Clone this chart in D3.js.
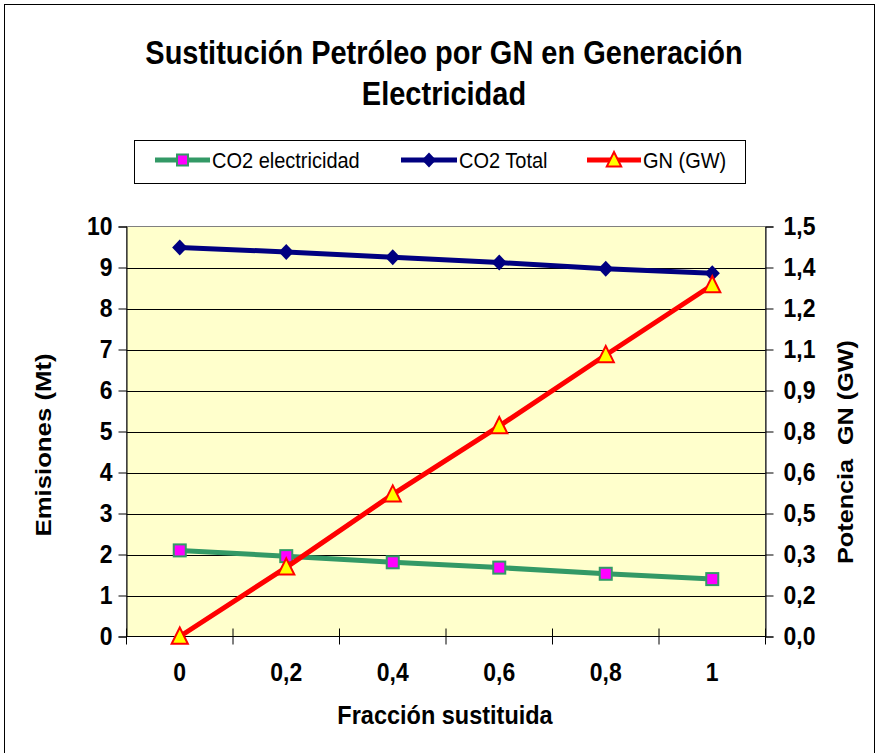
<!DOCTYPE html>
<html><head><meta charset="utf-8">
<script src="https://cdn.jsdelivr.net/npm/d3@7"></script>
<style>body{margin:0;background:#fff}svg{display:block}</style>
</head><body>
<svg id="c" width="879" height="753"></svg>
<script>
const categories = ["0","0,2","0,4","0,6","0,8","1"];
const co2Electricidad = [2.10, 1.96, 1.81, 1.68, 1.53, 1.40];
const co2Total = [9.49, 9.38, 9.25, 9.12, 8.97, 8.86];
const gnGW = [0.00, 0.253, 0.52, 0.77, 1.03, 1.286];
const leftTicks = [0,1,2,3,4,5,6,7,8,9,10];
const rightTickValues = [0,0.15,0.30,0.45,0.60,0.75,0.90,1.05,1.20,1.35,1.50];
const rightTickLabels = ["0,0","0,2","0,3","0,5","0,6","0,8","0,9","1,1","1,2","1,4","1,5"];

const svg = d3.select("#c");
const F = "'Liberation Sans', Arial, sans-serif";
const K = 1.12; // vertical stretch of the reference text
svg.append("rect").attr("x",4.5).attr("y",4.5).attr("width",870).attr("height",760)
  .attr("fill","#fff").attr("stroke","#000").attr("stroke-width",1);

const L=126.5, R=765.5, T=226.5, B=636.5;
const x = d3.scaleBand().domain(categories).range([L,R]);
const yL = d3.scaleLinear().domain([0,10]).range([B,T]);
const yR = d3.scaleLinear().domain([0,1.5]).range([B,T]);

svg.append("rect").attr("x",L).attr("y",T).attr("width",R-L).attr("height",B-T)
  .attr("fill","#FFFFCC").attr("stroke","#808080");

// gridlines
svg.append("g").selectAll("line").data(leftTicks.slice(1,-1)).join("line")
  .attr("x1",L).attr("x2",R).attr("y1",d=>Math.round(yL(d))+0.5).attr("y2",d=>Math.round(yL(d))+0.5)
  .attr("stroke","#000").attr("stroke-width",1);

function styleTicks(g){
  g.select(".domain").attr("stroke","#000");
  g.selectAll(".tick line").attr("stroke","#000");
  g.selectAll("text").attr("font-family",F).attr("font-weight","bold").attr("font-size",23).attr("fill","#000")
   .attr("transform",`scale(1,${K})`);
}
// left axis
const gl = svg.append("g").attr("transform",`translate(${L},0)`)
  .call(d3.axisLeft(yL).tickValues(leftTicks).tickSize(8).tickPadding(6).tickFormat(d3.format("d")));
styleTicks(gl);
// right axis
const gr = svg.append("g").attr("transform",`translate(${R},0)`)
  .call(d3.axisRight(yR).tickValues(rightTickValues).tickSize(8).tickPadding(10).tickFormat((d,i)=>rightTickLabels[i]));
styleTicks(gr);
// x axis
const gx = svg.append("g").attr("transform",`translate(0,${B})`)
  .call(d3.axisBottom(x).tickSize(0).tickPadding(22));
styleTicks(gx);
gx.selectAll("text").attr("y",0).attr("dy",0).attr("transform",`translate(0,44) scale(1,${K})`);
gx.select(".domain").remove();
svg.append("line").attr("x1",L).attr("x2",R).attr("y1",B).attr("y2",B).attr("stroke","#000");
// x boundary ticks (cross)
const bounds = categories.map(c=>x(c)).concat([R]);
svg.append("g").selectAll("line").data(bounds).join("line")
  .attr("x1",d=>d).attr("x2",d=>d).attr("y1",B-8).attr("y2",B+8).attr("stroke","#000");

const cx = (d,i)=>x(categories[i])+x.bandwidth()/2;

// series 1: CO2 electricidad
const lineL = d3.line().x(cx).y(d=>yL(d));
svg.append("path").datum(co2Electricidad).attr("d",lineL).attr("fill","none")
  .attr("stroke","#339966").attr("stroke-width",5);
svg.append("g").selectAll("rect").data(co2Electricidad).join("rect")
  .attr("x",(d,i)=>cx(d,i)-6).attr("y",d=>yL(d)-6).attr("width",12).attr("height",12)
  .attr("fill","#FF00FF").attr("stroke","#339966").attr("stroke-width",2);

// series 2: CO2 Total
svg.append("path").datum(co2Total).attr("d",lineL).attr("fill","none")
  .attr("stroke","#000080").attr("stroke-width",5);
const dia=(X,Y,s)=>`M${X},${Y-s}L${X+s*0.95},${Y}L${X},${Y+s}L${X-s*0.95},${Y}Z`;
svg.append("g").selectAll("path").data(co2Total).join("path")
  .attr("d",(d,i)=>dia(cx(d,i),yL(d),8))
  .attr("fill","#000080");

// series 3: GN (GW)
const lineR = d3.line().x(cx).y(d=>yR(d));
svg.append("path").datum(gnGW).attr("d",lineR).attr("fill","none")
  .attr("stroke","#FF0000").attr("stroke-width",5);
const tri=(X,Y,s)=>`M${X},${Y-s}L${X+s*0.9},${Y+s*0.8}L${X-s*0.9},${Y+s*0.8}Z`;
svg.append("g").selectAll("path").data(gnGW).join("path")
  .attr("d",(d,i)=>tri(cx(d,i),yR(d),9))
  .attr("fill","#FFFF00").attr("stroke","#FF0000").attr("stroke-width",2);

// horizontal text helper with vertical stretch
function htext(tx,ty,size,txt,anchor){
  return svg.append("text").attr("transform",`translate(${tx},${ty}) scale(1,${K})`)
    .attr("text-anchor",anchor||"middle").attr("font-family",F).attr("font-weight","bold")
    .attr("font-size",size).attr("fill","#000").text(txt);
}
htext(444,64,29,"Sustitución Petróleo por GN en Generación");
htext(444,105,29,"Electricidad");

// axis titles (rotated: stretch applies along text length)
function vtext(tx,ty,size,txt){
  return svg.append("text").attr("transform",`translate(${tx},${ty}) rotate(-90) scale(${K},1)`)
    .attr("text-anchor","middle").attr("font-family",F).attr("font-weight","bold")
    .attr("font-size",size).attr("fill","#000").style("white-space","pre").text(txt);
}
vtext(51,445,23,"Emisiones (Mt)");
vtext(853,452,22.5,"Potencia  GN (GW)");
htext(445,724,23.5,"Fracción sustituida");

// legend
svg.append("rect").attr("x",134.5).attr("y",140.5).attr("width",611).attr("height",43)
  .attr("fill","#fff").attr("stroke","#000");
const legendItems = [
  {name:"CO2 electricidad", color:"#339966", x0:155, x1:210, mk:"sq"},
  {name:"CO2 Total", color:"#000080", x0:401, x1:457, mk:"di"},
  {name:"GN (GW)", color:"#FF0000", x0:587, x1:641, mk:"tr"}
];
const ly=160;
legendItems.forEach(it=>{
  svg.append("line").attr("x1",it.x0).attr("x2",it.x1).attr("y1",ly).attr("y2",ly)
    .attr("stroke",it.color).attr("stroke-width",5);
  const m=(it.x0+it.x1)/2;
  if(it.mk==="sq") svg.append("rect").attr("x",m-5.5).attr("y",ly-5.5).attr("width",11).attr("height",11)
    .attr("fill","#FF00FF").attr("stroke","#339966").attr("stroke-width",2);
  if(it.mk==="di") svg.append("path").attr("d",dia(m,ly,7.5)).attr("fill","#000080");
  if(it.mk==="tr") svg.append("path").attr("d",tri(m,ly,8)).attr("fill","#FFFF00").attr("stroke","#FF0000").attr("stroke-width",2);
  svg.append("text").attr("transform",`translate(${it.x1+2},${ly+7.5}) scale(1,${K})`)
    .attr("font-family",F).attr("font-size",20).attr("fill","#000").text(it.name);
});
</script>
</body></html>
